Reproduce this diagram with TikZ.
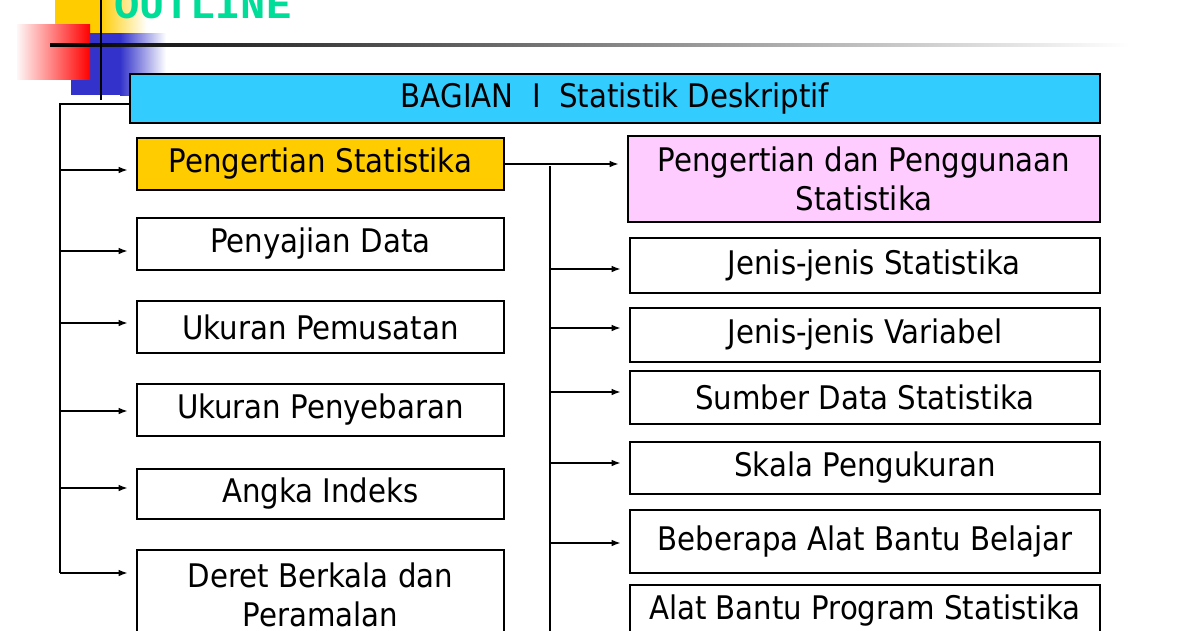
\documentclass[tikz,border=0pt]{standalone}
\usepackage{fontspec}
\setmainfont{DejaVu Sans Condensed}
\newfontfamily\titlefont{Liberation Mono}
\usetikzlibrary{arrows.meta}

\definecolor{headblue}{RGB}{51,204,255}
\definecolor{penyellow}{RGB}{255,204,0}
\definecolor{pinkbox}{RGB}{255,204,255}
\definecolor{outgreen}{RGB}{0,221,153}
\definecolor{decoblue}{RGB}{51,51,204}

\tikzset{
	box/.style={draw=black, line width=0.8pt, fill=white, align=center, inner sep=0pt,
		font=\fontsize{18.5}{22}\selectfont},
	leftbox/.style={box, minimum width=7.34cm},
	rightbox/.style={box, minimum width=9.4cm},
	conn/.style={line width=0.6pt},
	arr/.style={conn, -{Latex[length=5pt,width=3.8pt]}, shorten >=0.18cm}
}

\begin{document}
\begin{tikzpicture}[x=0.02cm, y=-0.02cm]
	\useasboundingbox (0,0) rectangle (1200,630);

	% title corner
	\fill[penyellow] (55,-5) rectangle (100,33);
	\shade[left color=penyellow, right color=white] (100,-5) rectangle (147,33);
	\fill[decoblue] (71,33) rectangle (120,95);
	\shade[left color=decoblue, right color=white] (120,33) rectangle (166,95);
	\shade[left color=red!3, right color=red] (17,24) rectangle (90,79);
	\shade[left color=black, right color=white] (50,43.5) rectangle (1130,46.5);
	\draw[line width=1.7pt] (101,-5) -- (101,100);
	\node[font=\titlefont\bfseries\fontsize{24}{24}\selectfont, text=outgreen,
		anchor=base west, inner sep=0pt] (title) at (114,18) {OUTLINE};

	\node[box, fill=headblue, minimum width=19.4cm, minimum height=0.98cm] (head) at (615,98.5)
		{BAGIAN\ \ I\ \ Statistik Deskriptif};

	% left column
	\node[leftbox, fill=penyellow, minimum height=1.04cm] (pen) at (320.5,164) {Pengertian Statistika};
	\node[leftbox, minimum height=1.04cm] (saji) at (320.5,244) {Penyajian Data};
	\node[leftbox, minimum height=1.04cm] (pusat) at (320.5,327) {Ukuran Pemusatan};
	\node[leftbox, minimum height=1.04cm] (sebar) at (320.5,410) {Ukuran Penyebaran};
	\node[leftbox, minimum height=1cm] (indeks) at (320.5,494) {Angka Indeks};
	\node[leftbox, minimum height=1.8cm] (deret) at (320.5,595) {Deret Berkala dan\\Peramalan};

	% right column
	\node[rightbox, fill=pinkbox, minimum width=9.44cm, minimum height=1.72cm] (pink) at (864,179)
		{Pengertian dan Penggunaan\\Statistika};
	\node[rightbox, minimum height=1.1cm] (js) at (865,265.5) {\ \ Jenis-jenis Statistika};
	\node[rightbox, minimum height=1.08cm] (jv) at (865,335) {Jenis-jenis Variabel};
	\node[rightbox, minimum height=1.06cm] (sd) at (865,397.5) {Sumber Data Statistika};
	\node[rightbox, minimum height=1.04cm] (sk) at (865,468) {Skala Pengukuran};
	\node[rightbox, minimum height=1.26cm] (bb) at (865,541.5) {Beberapa Alat Bantu Belajar};
	\node[rightbox, minimum height=1.04cm] (ab) at (865,611) {Alat Bantu Program Statistika};

	% left trunk
	\coordinate (l0) at (60,104);
	\foreach \n/\y [count=\i] in {pen/170, saji/251, pusat/323, sebar/411, indeks/488, deret/573} {
		\coordinate (l\i) at (60,\y);
		\draw[arr] (l\i) -- (l\i -| \n.west);
	}
	\draw[conn] (l0 -| head.west) -- (l0) -- (l6);

	% right trunk
	\draw[arr] (pen.east) -- (pen.east -| pink.west);
	\coordinate (m0) at (550,166);
	\coordinate (mb) at (550,640);
	\foreach \n/\y [count=\i] in {js/269, jv/328, sd/392, sk/463, bb/543} {
		\coordinate (m\i) at (550,\y);
		\draw[arr] (m\i) -- (m\i -| \n.west);
	}
	\draw[conn] (m0) -- (mb);
\end{tikzpicture}
\end{document}
